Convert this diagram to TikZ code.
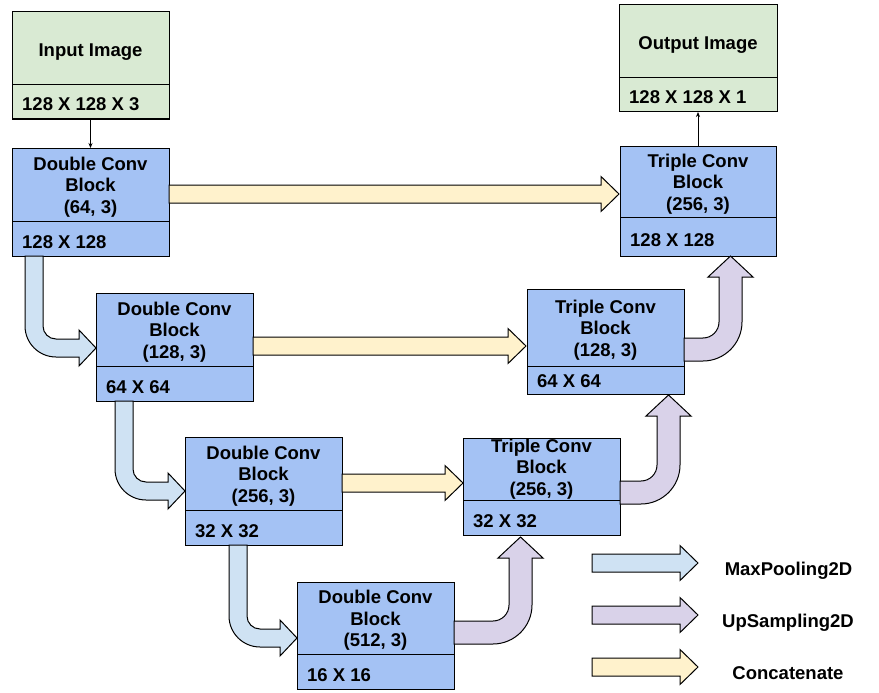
\documentclass[tikz,border=0pt]{standalone}
\usepackage{fontspec}
\setmainfont{Liberation Sans}
\usetikzlibrary{arrows.meta}
\definecolor{boxblue}{HTML}{A4C2F4}
\definecolor{boxgreen}{HTML}{D9EAD3}
\definecolor{mpblue}{HTML}{CFE2F3}
\definecolor{uppurple}{HTML}{D9D2E9}
\definecolor{catyellow}{HTML}{FFF2CC}
\tikzset{
  every node/.append style={font=\fontsize{18.5}{21.5}\selectfont\bfseries},
  cell/.style={draw=black, line width=1pt, inner sep=0pt, outer sep=0pt, anchor=north west},
  dims/.style 2 args={minimum width=#1pt, minimum height=#2pt},
  title/.style={align=center, inner sep=0pt},
  sizetext/.style={anchor=west, inner sep=0pt, text height=13.2pt, text depth=0pt},
  lbl/.style={anchor=base, inner sep=0pt},
  thinarrow/.style={draw=black, line width=0.8pt, -{Stealth[length=5pt,width=4pt]}},
  mpstyle/.style={fill=mpblue, draw=black, line width=1pt},
  upstyle/.style={fill=uppurple, draw=black, line width=1pt},
  catstyle/.style={fill=catyellow, draw=black, line width=1pt},
}
% straight block arrow: style, x start, y centre, x tip
\newcommand\flatarrow[4]{%
  \filldraw[#1] (#2,{#3-9}) -- ({#4-18},{#3-9}) -- ({#4-18},{#3-17.5}) -- (#4,#3)
    -- ({#4-18},{#3+17.5}) -- ({#4-18},{#3+9}) -- (#2,{#3+9}) -- cycle;}
% down-then-right block arrow: style, x left, y top, y centre, x tip
\newcommand\downarrowblk[5]{%
  \filldraw[#1] (#2,#3) -- (#2,{#4-22}) .. controls (#2,{#4-22+17.1}) and ({#2+31-17.1},{#4+9}) .. ({#2+31},{#4+9})
    -- ({#5-17},{#4+9}) -- ({#5-17},{#4+18}) -- (#5,#4) -- ({#5-17},{#4-18}) -- ({#5-17},{#4-9})
    -- ({#2+31},{#4-9}) .. controls ({#2+31-7.2},{#4-9}) and ({#2+18},{#4-22+7.2}) .. ({#2+18},{#4-22})
    -- ({#2+18},#3) -- cycle;}
% right-then-up block arrow: style, x start, y top of shaft, x left of vertical shaft, y tip
\newcommand\uparrowblk[5]{%
  \filldraw[#1] (#2,#3) -- ({#4-16},#3) .. controls ({#4-16+8.8},#3) and (#4,{#3-16+8.8}) .. (#4,{#3-16})
    -- (#4,{#5+21}) -- ({#4-11},{#5+21}) -- ({#4+11.5},#5) -- ({#4+34},{#5+21}) -- ({#4+23},{#5+21})
    -- ({#4+23},{#3-16}) .. controls ({#4+23},{#3-16+21.5}) and ({#4-16+21.5},{#3+23}) .. ({#4-16},{#3+23})
    -- (#2,{#3+23}) -- cycle;}
\begin{document}
\begin{tikzpicture}[x=1pt,y=-1pt]
\useasboundingbox (0,0) rectangle (879,693);
\fill[white] (0,0) rectangle (879,693);

% Input image
\node[cell, dims={157}{73}, fill=boxgreen] (inp) at (12,12) {};
\node[title] (inpt) at ([yshift=-3.5pt]inp.center) {Input Image};
\node[cell, dims={157}{34}, fill=boxgreen] (inps) at (12,85) {};
\node[sizetext] (inpst) at ([xshift=10pt,yshift=-2pt]inps.west) {128 X 128 X 3};

% Output image
\node[cell, dims={158}{73}, fill=boxgreen] (out) at (619,5) {};
\node[title] (outt) at ([yshift=-3.5pt]out.center) {Output Image};
\node[cell, dims={158}{34}, fill=boxgreen] (outs) at (619,78) {};
\node[sizetext] (outst) at ([xshift=10pt,yshift=-2pt]outs.west) {128 X 128 X 1};

% Double conv blocks
\node[cell, dims={157}{73}, fill=boxblue] (dc1) at (12,148) {};
\node[title] (dc1t) at ([yshift=-2.5pt]dc1.center) {Double Conv\\Block\\(64, 3)};
\node[cell, dims={157}{35}, fill=boxblue] (dc1s) at (12,221) {};
\node[sizetext] (dc1st) at ([xshift=10pt,yshift=-3pt]dc1s.west) {128 X 128};

\node[cell, dims={157}{73}, fill=boxblue] (dc2) at (96,293) {};
\node[title] (dc2t) at ([yshift=-2.5pt]dc2.center) {Double Conv\\Block\\(128, 3)};
\node[cell, dims={157}{35}, fill=boxblue] (dc2s) at (96,366) {};
\node[sizetext] (dc2st) at ([xshift=10pt,yshift=-3pt]dc2s.west) {64 X 64};

\node[cell, dims={157}{73}, fill=boxblue] (dc3) at (185,437) {};
\node[title] (dc3t) at ([yshift=-2.5pt]dc3.center) {Double Conv\\Block\\(256, 3)};
\node[cell, dims={157}{35}, fill=boxblue] (dc3s) at (185,510) {};
\node[sizetext] (dc3st) at ([xshift=10pt,yshift=-3pt]dc3s.west) {32 X 32};

\node[cell, dims={157}{72}, fill=boxblue] (dc4) at (297,582) {};
\node[title] (dc4t) at ([yshift=-2.5pt]dc4.center) {Double Conv\\Block\\(512, 3)};
\node[cell, dims={157}{35}, fill=boxblue] (dc4s) at (297,654) {};
\node[sizetext] (dc4st) at ([xshift=10pt,yshift=-3pt]dc4s.west) {16 X 16};

% Triple conv blocks
\node[cell, dims={156}{71}, fill=boxblue] (tc1) at (620,146) {};
\node[title] (tc1t) at ([yshift=-2.5pt]tc1.center) {Triple Conv\\Block\\(256, 3)};
\node[cell, dims={156}{39}, fill=boxblue] (tc1s) at (620,217) {};
\node[sizetext] (tc1st) at ([xshift=10pt,yshift=-3pt]tc1s.west) {128 X 128};

\node[cell, dims={157}{77}, fill=boxblue] (tc2) at (527,289) {};
\node[title] (tc2t) at ([yshift=-2.5pt]tc2.center) {Triple Conv\\Block\\(128, 3)};
\node[cell, dims={157}{28}, fill=boxblue] (tc2s) at (527,366) {};
\node[sizetext] (tc2st) at ([xshift=10pt,yshift=-1pt]tc2s.west) {64 X 64};

\node[cell, dims={157}{62}, fill=boxblue] (tc3) at (463,438) {};
\node[title] (tc3t) at ([yshift=0pt]tc3.center) {Triple Conv\\Block\\(256, 3)};
\node[cell, dims={157}{35}, fill=boxblue] (tc3s) at (463,500) {};
\node[sizetext] (tc3st) at ([xshift=10pt,yshift=-3pt]tc3s.west) {32 X 32};

% thin connectors
\draw[thinarrow] (inps.south) -- (dc1.north);
\draw[thinarrow] (tc1.north) -- (outs.south);

% concatenate arrows
\flatarrow{catstyle}{169}{194}{619}
\flatarrow{catstyle}{253}{346}{526}
\flatarrow{catstyle}{342}{483}{463}

% max pooling arrows
\downarrowblk{mpstyle}{25}{256}{348}{96}
\downarrowblk{mpstyle}{115}{401}{491}{185}
\downarrowblk{mpstyle}{229}{545}{638}{297}

% up sampling arrows
\uparrowblk{upstyle}{454}{621}{509}{537}
\uparrowblk{upstyle}{620}{481}{657}{395}
\uparrowblk{upstyle}{684}{338}{719}{256}

% legend
\flatarrow{mpstyle}{592}{563}{698}
\flatarrow{upstyle}{592}{615}{698}
\flatarrow{catstyle}{592}{667}{698}
\node[lbl] (lg1) at (788.5,575) {MaxPooling2D};
\node[lbl] (lg2) at (788,627) {UpSampling2D};
\node[lbl] (lg3) at (788,679) {Concatenate};
\end{tikzpicture}
\end{document}
